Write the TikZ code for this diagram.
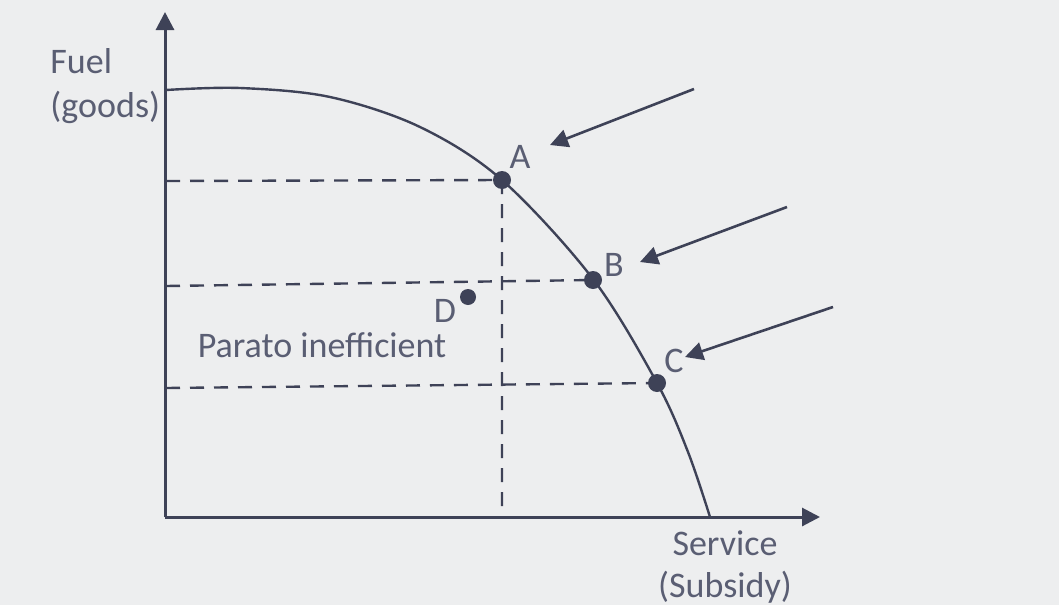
\documentclass[tikz,border=0pt]{standalone}
\usepackage{fontspec}
\setmainfont{Carlito}
\usepackage{tikz}
\usetikzlibrary{positioning,arrows.meta}
\usepackage{xcolor}
\definecolor{ink}{HTML}{3E4257}
\definecolor{txt}{HTML}{5A5E73}
\definecolor{paper}{HTML}{EDEEEF}

\tikzset{
  dot/.style={circle,fill=ink,inner sep=0pt,minimum size=9pt},
  lbl/.style={text=txt,font=\fontsize{18}{22}\selectfont,inner sep=0pt},
  guide/.style={ink,line width=1.2pt,dash pattern=on 7pt off 5pt},
}

\begin{document}
\begin{tikzpicture}[x=0.5pt,y=-0.5pt,>={Triangle[length=9pt,width=9pt]}]
\fill[paper] (0,0) rectangle (1059,605);
\useasboundingbox (0,0) rectangle (1059,605);
% axes
\coordinate (O) at (165,517);
\coordinate (ytip) at (165,12);
\coordinate (xtip) at (820,517);
\draw[->,ink,line width=1.5pt] (O) -- (ytip);
\draw[->,ink,line width=1.5pt] (O) -- (xtip);
\node[lbl,align=left,anchor=north west] (fuel) at (50,48) {Fuel\\(goods)};
\node[lbl,align=center,anchor=north,font=\fontsize{18}{21}\selectfont] (serv) at (725,530) {Service\\(Subsidy)};
% frontier
\draw[ink,line width=1.2pt] plot[smooth,tension=0.55] coordinates {(166,90) (240,88) (330,97) (420,127) (502,180) (593,279) (657,383) (688,452) (710,517)};
\node[dot] (A) at (502,180) {};
\node[dot] (B) at (593,280) {};
\node[dot] (C) at (657,383) {};
\node[dot,minimum size=8pt] (D) at (468,297) {};
\node[lbl] (labA) at (520,157) {A};
\node[lbl] (labB) at (614,265) {B};
\node[lbl] (labC) at (674,361) {C};
\node[lbl] (labD) at (445,311) {D};
% dashed guides
\coordinate (yA) at (166,181);
\coordinate (yB) at (166,286);
\coordinate (yC) at (166,388);
\coordinate (xA) at (502,517);
\draw[guide] (yA) -- (A.center) -- (xA);
\draw[guide] (yB) -- (B.center);
\draw[guide] (yC) -- (C.center);
\node[lbl] (ineff) at (322,345) {Parato inefficient};
% pointers
\coordinate (pA) at (694,89);
\coordinate (pB) at (787,207);
\coordinate (pC) at (833,307);
\coordinate (hA) at (550,145);
\coordinate (hB) at (640,262);
\coordinate (hC) at (685,357);
\draw[->,ink,line width=1.3pt] (pA) -- (hA);
\draw[->,ink,line width=1.3pt] (pB) -- (hB);
\draw[->,ink,line width=1.3pt] (pC) -- (hC);
\end{tikzpicture}
\end{document}
